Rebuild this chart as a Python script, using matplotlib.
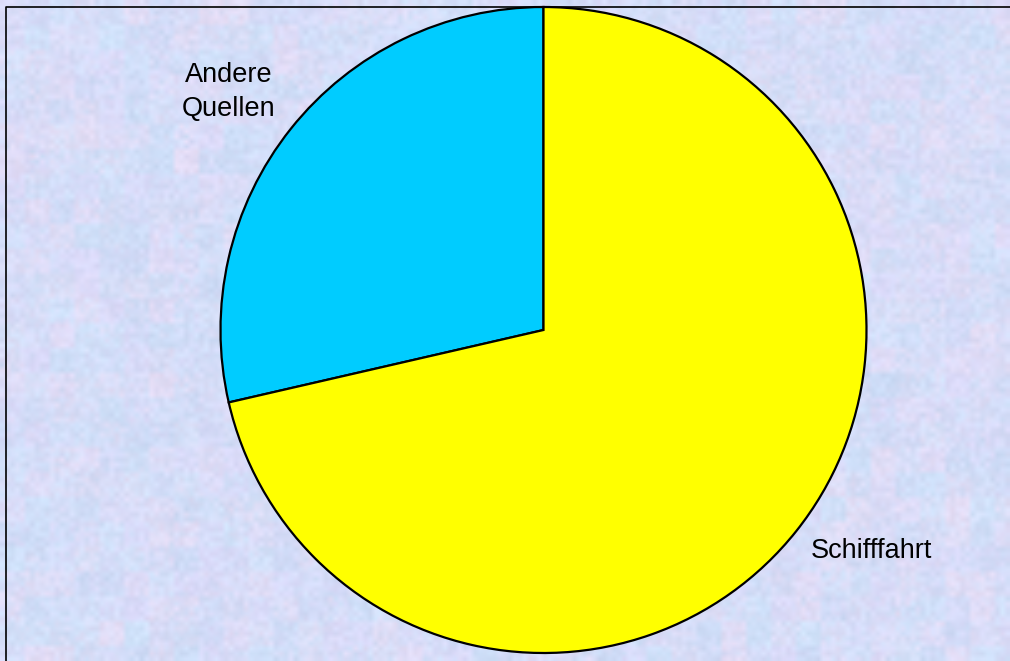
import numpy as np
import matplotlib
matplotlib.use("agg")
import matplotlib.pyplot as plt

# data
labels = ["Andere\nQuellen", "Schifffahrt"]
shares = [28.6, 71.4]
colors = ["#00CCFF", "#FFFF00"]

W, H = 1010, 661
fig = plt.figure(figsize=(W / 100, H / 100), dpi=100)
ax = fig.add_axes([0, 0, 1, 1])
ax.set_xlim(0, W)
ax.set_ylim(0, H)
ax.axis("off")

# pastel textured backdrop (decoration only)
rng = np.random.default_rng(7)
gh, gw = H // 5 + 1, W // 5 + 1
base = np.array([0.84, 0.88, 0.98])
tints = np.array([[0.80, 0.90, 0.99],
                  [0.87, 0.84, 0.98],
                  [0.94, 0.86, 0.95],
                  [0.76, 0.84, 0.95]])
coarse = rng.random((gh // 5 + 2, gw // 5 + 2, 4))
coarse = np.kron(coarse, np.ones((5, 5, 1)))[:gh, :gw]
fine = rng.random((gh, gw, 4)) * 0.7
wts = (coarse + fine) ** 3
wts /= wts.sum(axis=2, keepdims=True)
tex = wts @ tints
tex = 0.65 * tex + 0.35 * base + (rng.random((gh, gw, 1)) - 0.5) * 0.05
tex = np.clip(tex, 0, 1)
ax.imshow(tex, extent=(0, W, 0, H), interpolation="bilinear", zorder=0, aspect="auto")

# border on left and top
ax.plot([5.5, 5.5, W], [0, H - 6.5, H - 6.5], color="black", lw=1.2, zorder=1)

wedges, _ = ax.pie(shares, colors=colors, startangle=90, counterclock=True,
                   center=(543.5, H - 330), radius=323, frame=True,
                   wedgeprops=dict(edgecolor="black", linewidth=1.6))
ax.set_xlim(0, W)
ax.set_ylim(0, H)
ax.axis("off")
for w in wedges:
    w.set_zorder(2)

font = dict(family=["Liberation Sans", "DejaVu Sans"], fontsize=19.5, color="black")
ax.text(229, H - 92, labels[0], ha="center", va="center", linespacing=1.4, **font)
ax.text(871, H - 551, labels[1], ha="center", va="center", **font)

fig.savefig("out.png", dpi=100)
